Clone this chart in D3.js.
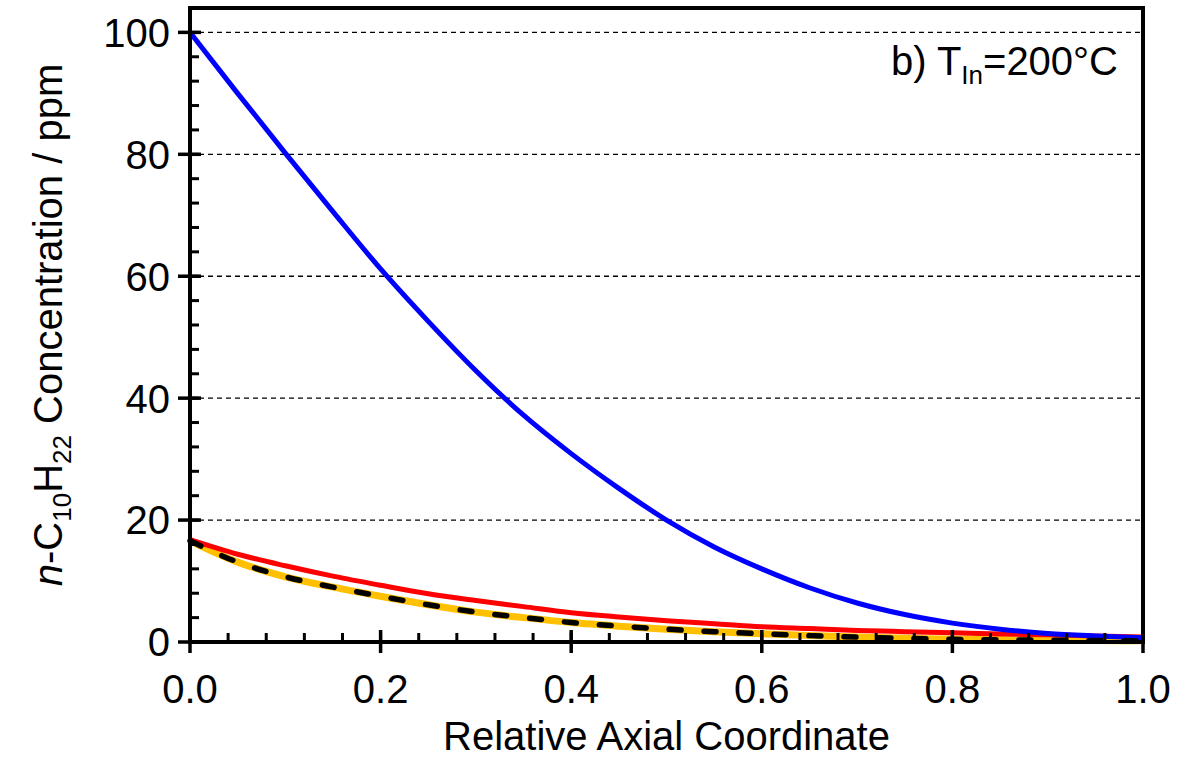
<!DOCTYPE html>
<html>
<head>
<meta charset="utf-8">
<script src="https://cdn.jsdelivr.net/npm/d3@7"></script>
<style>
  body { margin: 0; background: #fff; }
  text { font-family: Arial, "Liberation Sans", sans-serif; fill: #000; }
</style>
</head>
<body>
<div id="chart"></div>
<script>
// relative axial coordinate sample points
const xs = [0, 0.05, 0.1, 0.15, 0.2, 0.25, 0.3, 0.35, 0.4, 0.45, 0.5,
            0.55, 0.6, 0.65, 0.7, 0.75, 0.8, 0.85, 0.9, 0.95, 1.0];

// concentration curves (ppm)
const blueVals   = [100, 90, 80.2, 70.6, 61.2, 52.6, 44.5, 37.2, 30.9, 25.2, 20.0,
                    15.6, 12.0, 8.9, 6.4, 4.5, 3.1, 2.1, 1.4, 1.0, 0.7];
const redVals    = [16.8, 14.4, 12.5, 10.8, 9.3, 7.9, 6.8, 5.8, 4.8, 4.1, 3.5,
                    3.0, 2.5, 2.2, 1.9, 1.7, 1.5, 1.3, 1.2, 1.0, 0.8];
const orangeVals = [16.6, 13.1, 10.7, 9.0, 7.5, 6.1, 4.9, 4.0, 3.2, 2.6, 2.1,
                    1.7, 1.35, 1.05, 0.8, 0.6, 0.45, 0.35, 0.3, 0.25, 0.2];
const blackVals  = [16.6, 13.1, 10.7, 9.0, 7.5, 6.1, 4.9, 4.0, 3.2, 2.6, 2.1,
                    1.7, 1.35, 1.05, 0.8, 0.6, 0.45, 0.35, 0.3, 0.25, 0.2];

const xTicks = [0, 0.2, 0.4, 0.6, 0.8, 1.0];
const yTicks = [0, 20, 40, 60, 80, 100];

const width = 1196, height = 757;
const margin = { top: 8, right: 53, bottom: 115, left: 190 };
const w = width - margin.left - margin.right;
const h = height - margin.top - margin.bottom;
const fs = 40, subFs = 26;

const svg = d3.select("#chart").append("svg")
    .attr("width", width).attr("height", height);
const g = svg.append("g").attr("transform", `translate(${margin.left},${margin.top})`);

const x = d3.scaleLinear().domain([0, 1]).range([0, w]);
const y = d3.scaleLinear().domain([0, 104]).range([h, 0]);

// dashed horizontal grid
g.selectAll("line.grid").data(yTicks.filter(d => d > 0)).join("line")
    .attr("class", "grid")
    .attr("x1", 0).attr("x2", w)
    .attr("y1", d => y(d)).attr("y2", d => y(d))
    .attr("stroke", "#000").attr("stroke-width", 1.3)
    .attr("stroke-dasharray", "5,4");

// curves
const line = d3.line().x(d => x(d[0])).y(d => y(d[1])).curve(d3.curveMonotoneX);
const series = [
  { vals: orangeVals, color: "#FFC000", sw: 7, dash: null },
  { vals: redVals, color: "#FF0000", sw: 5, dash: null },
  { vals: blueVals, color: "#0000FF", sw: 5, dash: null },
  { vals: blackVals, color: "#000", sw: 5.5, dash: "12,23" }
];
series.forEach(s => {
  g.append("path")
    .datum(xs.map((v, i) => [v, s.vals[i]]))
    .attr("d", line)
    .attr("fill", "none")
    .attr("stroke", s.color)
    .attr("stroke-width", s.sw)
    .attr("stroke-linecap", s.dash ? "round" : "butt")
    .attr("stroke-dasharray", s.dash);
});

// frame
g.append("rect").attr("x", 0).attr("y", 0).attr("width", w).attr("height", h)
    .attr("fill", "none").attr("stroke", "#000").attr("stroke-width", 4);

// minor ticks
g.selectAll("line.xminor").data(d3.range(0, 1.0001, 0.04)).join("line")
    .attr("x1", d => x(d)).attr("x2", d => x(d))
    .attr("y1", h).attr("y2", h - 9)
    .attr("stroke", "#000").attr("stroke-width", 3);
g.selectAll("line.yminor").data(d3.range(0, 104, 4)).join("line")
    .attr("x1", 0).attr("x2", 9)
    .attr("y1", d => y(d)).attr("y2", d => y(d))
    .attr("stroke", "#000").attr("stroke-width", 3);

// major ticks (cross the axes)
g.selectAll("line.xmajor").data(xTicks).join("line")
    .attr("x1", d => x(d)).attr("x2", d => x(d))
    .attr("y1", h - 12).attr("y2", h + 11)
    .attr("stroke", "#000").attr("stroke-width", 3.5);
g.selectAll("line.ymajor").data(yTicks).join("line")
    .attr("x1", -12).attr("x2", 11)
    .attr("y1", d => y(d)).attr("y2", d => y(d))
    .attr("stroke", "#000").attr("stroke-width", 3.5);

// tick labels
g.selectAll("text.xlab").data(xTicks).join("text")
    .attr("x", d => x(d)).attr("y", h + 61)
    .attr("text-anchor", "middle").attr("font-size", fs)
    .text(d => d.toFixed(1));
g.selectAll("text.ylab").data(yTicks).join("text")
    .attr("x", -20).attr("y", d => y(d)).attr("dy", "0.36em")
    .attr("text-anchor", "end").attr("font-size", fs)
    .text(d => d);

// axis titles
svg.append("text")
    .attr("x", margin.left + w / 2).attr("y", 750)
    .attr("text-anchor", "middle").attr("font-size", fs)
    .text("Relative Axial Coordinate");

const yt = svg.append("text")
    .attr("transform", `translate(62,${margin.top + h / 2}) rotate(-90)`)
    .attr("text-anchor", "middle").attr("font-size", fs);
yt.append("tspan").attr("font-style", "italic").text("n");
yt.append("tspan").text("-C");
yt.append("tspan").attr("font-size", subFs).attr("dy", 9).text("10");
yt.append("tspan").attr("dy", -9).text("H");
yt.append("tspan").attr("font-size", subFs).attr("dy", 9).text("22");
yt.append("tspan").attr("dy", -9).text(" Concentration / ppm");

// annotation
const ann = g.append("text")
    .attr("x", w - 25).attr("y", 67)
    .attr("text-anchor", "end").attr("font-size", fs);
ann.append("tspan").text("b) T");
ann.append("tspan").attr("font-size", subFs).attr("dy", 9).text("In");
ann.append("tspan").attr("dy", -9).text("=200°C");
</script>
</body>
</html>
